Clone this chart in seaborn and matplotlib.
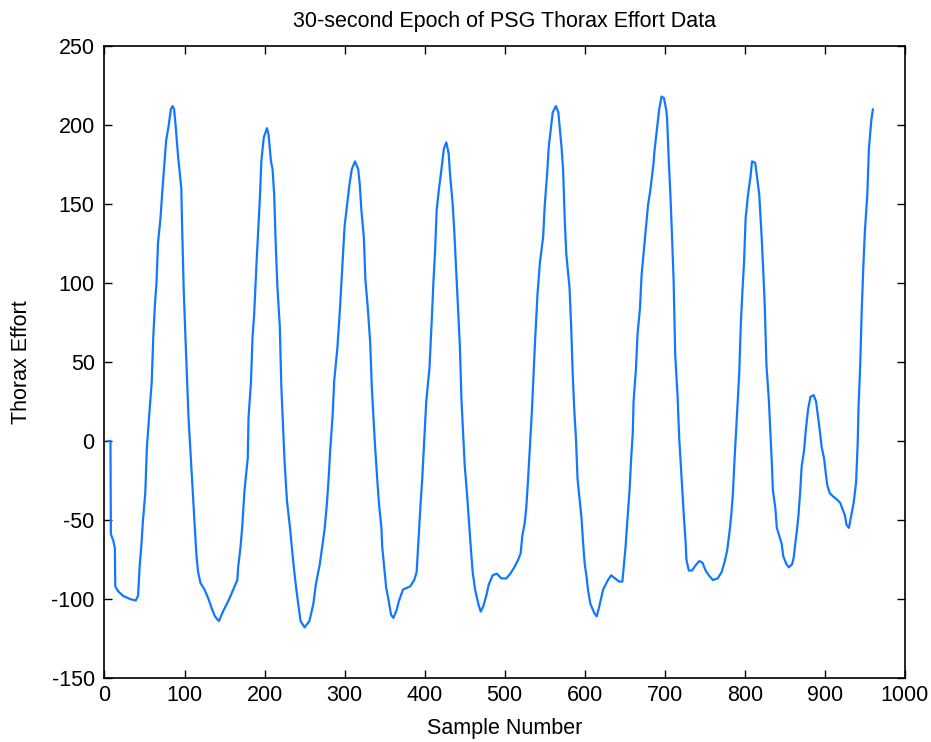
import matplotlib
matplotlib.use("Agg")
import matplotlib.pyplot as plt
import seaborn as sns
import pandas as pd

# ---- data ----
sample_number = [
    4, 7.5, 8, 11, 13, 13.5, 17, 23, 32, 39, 42, 44,
    46, 48, 51, 53, 56, 59, 61, 63, 65, 67, 70, 72, 75, 77, 80, 83, 85, 87,
    89, 92, 96, 97, 99, 101, 103, 105, 109, 111, 113, 115, 117, 120, 125, 130,
    134, 138, 143, 148, 155, 161, 166, 167, 170, 172, 175, 179, 180, 183, 185,
    187, 190, 192, 194, 196, 199, 203, 205, 208, 210, 212, 214, 216, 219, 221,
    223, 225, 228, 232, 234, 237, 239, 242, 245, 250, 256, 261, 264, 269, 272,
    275, 278, 280, 282, 285, 287, 291, 294, 297, 300, 303, 306, 309, 313, 317,
    319, 321, 324, 326, 329, 332, 334, 336, 338, 341, 343, 346, 347, 350, 352,
    355, 358, 361, 365, 368, 373, 382, 387, 390, 393, 395, 397, 400, 402, 406,
    409, 411, 413, 415, 418, 421, 424, 427, 430, 432, 435, 437, 440, 442, 444,
    446, 448, 450, 453, 456, 458, 460, 463, 467, 470, 473, 477, 480, 485, 490,
    496, 502, 507, 512, 517, 520, 522, 525, 527, 529, 532, 534, 536, 538, 541,
    544, 548, 550, 553, 555, 560, 564, 567, 571, 573, 575, 577, 581, 583, 585,
    587, 589, 591, 594, 596, 598, 600, 602, 604, 607, 612, 615, 618, 623, 629,
    633, 638, 643, 647, 651, 653, 656, 658, 660, 661, 664, 666, 669, 671, 675,
    679, 682, 686, 687, 691, 693, 696, 699, 702, 703, 705, 707, 709, 711, 713,
    716, 718, 720, 722, 724, 726, 727, 730, 734, 738, 743, 747, 751, 755, 760,
    766, 771, 775, 778, 781, 783, 785, 787, 789, 791, 793, 795, 797, 799, 801,
    804, 807, 809, 813, 816, 818, 821, 823, 825, 827, 830, 832, 834, 835, 838,
    840, 843, 846, 848, 852, 855, 859, 861, 863, 865, 867, 869, 871, 874, 876,
    879, 882, 886, 889, 891, 894, 896, 899, 901, 903, 906, 910, 915, 919, 922,
    925, 927, 930, 933, 936, 939, 941, 942, 944, 946, 948, 950, 953, 955, 958,
    960,
]
thorax_effort = [
    0, 0, -59, -63, -68, -92, -95, -98, -100, -101, -98, -79,
    -67, -51, -33, -4, 17, 37, 66, 86, 100, 126, 141, 156, 176, 190, 199, 210, 212, 210,
    199, 180, 160, 136, 96, 68, 42, 15, -21, -39, -56, -73, -83, -90, -94, -100,
    -106, -111, -114, -108, -101, -94, -88, -80, -67, -55, -31, -11, 15, 37, 66,
    80, 113, 133, 152, 177, 192, 198, 194, 177, 172, 156, 124, 98, 73, 34,
    10, -13, -38, -56, -67, -82, -91, -103, -114, -118, -114, -103, -91, -78, -67,
    -56, -39, -24, -6, 16, 38, 59, 82, 109, 136, 149, 162, 172, 177, 172,
    162, 146, 129, 102, 84, 62, 34, 15, -3, -26, -40, -55, -67, -83, -93,
    -101, -110, -112, -107, -101, -94, -92, -88, -83, -57, -39, -24, 5, 25, 46,
    78, 101, 120, 146, 160, 172, 185, 189, 182, 167, 150, 133, 102, 80, 60,
    26, 5, -15, -34, -56, -70, -83, -94, -103, -108, -105, -98, -91, -85, -84,
    -87, -87, -84, -80, -75, -71, -60, -52, -42, -26, 1, 19, 41, 64, 93,
    113, 129, 149, 169, 186, 208, 212, 208, 186, 171, 140, 118, 97, 73, 42,
    19, 2, -24, -39, -49, -65, -78, -85, -94, -103, -109, -111, -105, -94, -88,
    -85, -87, -89, -89, -67, -52, -31, -11, 5, 25, 46, 68, 84, 105, 127,
    149, 159, 176, 183, 201, 210, 218, 217, 209, 203, 177, 156, 130, 102, 55,
    28, 2, -15, -31, -49, -64, -75, -82, -82, -79, -76, -77, -82, -85, -88,
    -87, -83, -76, -69, -57, -47, -34, -13, 5, 24, 43, 74, 95, 113, 141,
    156, 167, 177, 176, 164, 156, 129, 108, 84, 48, 26, 5, -17, -31, -42,
    -55, -60, -65, -73, -78, -80, -78, -74, -65, -57, -47, -33, -16, -6, 6,
    20, 28, 29, 25, 17, 5, -4, -11, -20, -28, -33, -35, -37, -39, -43,
    -47, -53, -55, -47, -39, -26, -1, 21, 46, 82, 110, 133, 156, 185, 203,
    210,
]
x_ticks = [0, 100, 200, 300, 400, 500, 600, 700, 800, 900, 1000]
y_ticks = [-150, -100, -50, 0, 50, 100, 150, 200, 250]

df = pd.DataFrame({"Sample Number": sample_number, "Thorax Effort": thorax_effort})

sns.set_theme(style="white")
plt.rcParams["font.family"] = ["Liberation Sans", "DejaVu Sans"]
plt.rcParams["text.color"] = "black"
plt.rcParams["axes.labelcolor"] = "black"

fig = plt.figure(figsize=(9.31, 7.42), dpi=100)
ax = fig.add_axes([0.1122, 0.0863, 0.8598, 0.8517])

sns.lineplot(data=df, x="Sample Number", y="Thorax Effort", ax=ax,
             color="#1279ff", linewidth=1.6, sort=False)

ax.set_xlim(0, 1000)
ax.set_ylim(-150, 250)
ax.set_xticks(x_ticks)
ax.set_yticks(y_ticks)
ax.set_xticklabels([str(v) for v in x_ticks])
ax.set_yticklabels([str(v) for v in y_ticks])

for s in ax.spines.values():
    s.set_visible(True)
    s.set_color("black")
    s.set_linewidth(1.2)

ax.tick_params(axis="both", which="both", direction="in", length=6, width=1,
               colors="black", labelsize=15.5, top=True, right=True,
               bottom=True, left=True)
ax.tick_params(axis="x", pad=5)
ax.tick_params(axis="y", pad=7)

ax.set_title("30-second Epoch of PSG Thorax Effort Data", fontsize=15.5, pad=14, color="black")
ax.set_xlabel("Sample Number", fontsize=15.5, labelpad=9, color="black")
ax.set_ylabel("Thorax Effort", fontsize=15.5, labelpad=14, color="black")
ax.grid(False)
ax.set_facecolor("white")
fig.patch.set_facecolor("white")

fig.savefig("out.png", dpi=100, facecolor="white")
